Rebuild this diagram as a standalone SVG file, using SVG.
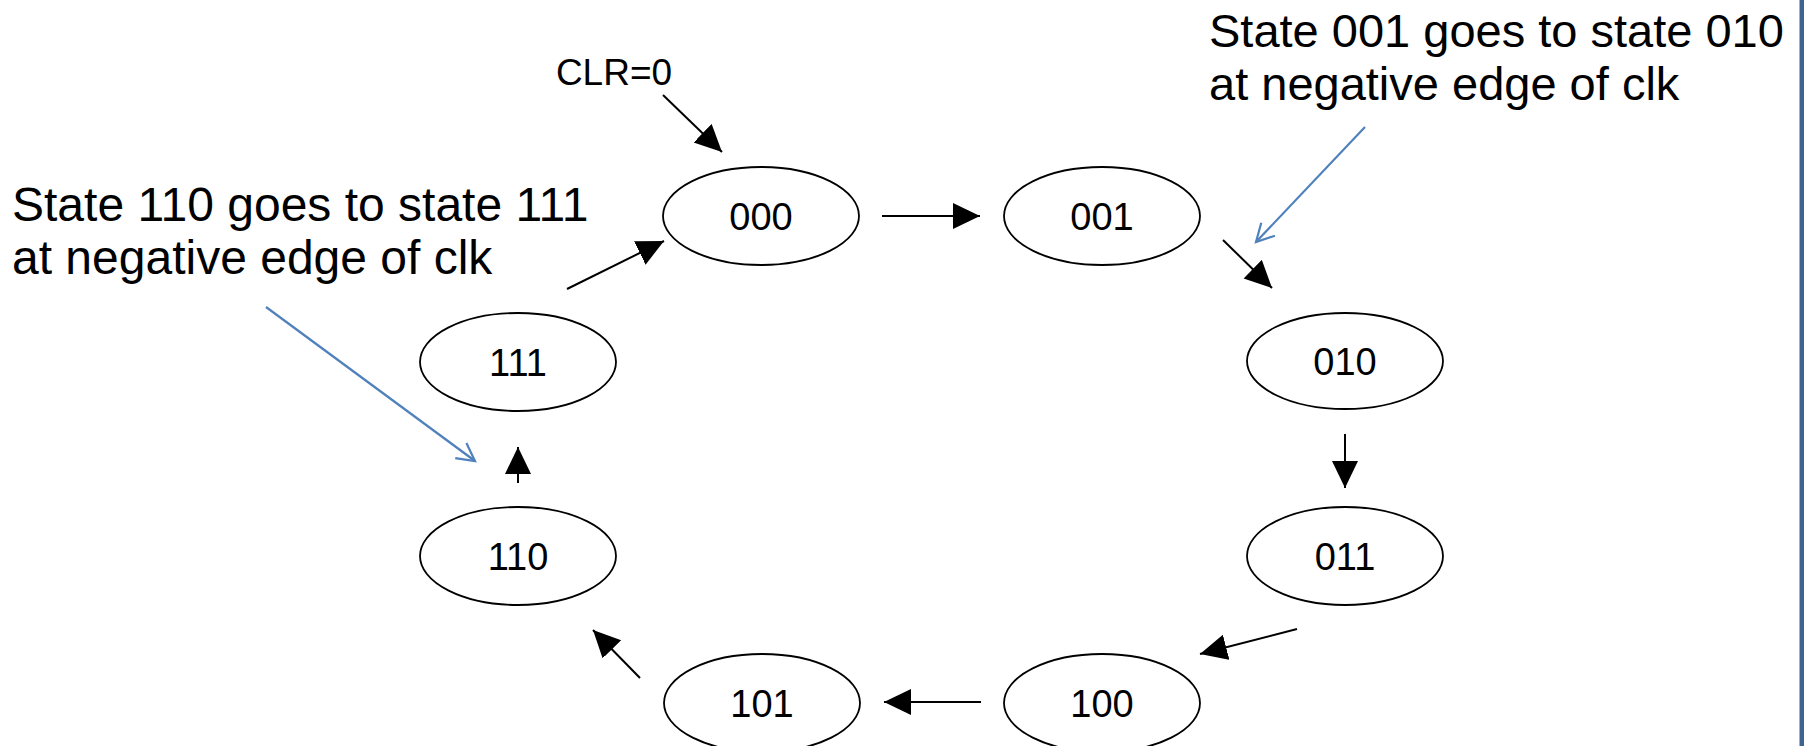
<svg xmlns="http://www.w3.org/2000/svg" width="1806" height="746" viewBox="0 0 1806 746">
  <style>
    .state ellipse { fill: #ffffff; stroke: #000000; stroke-width: 1.8; }
    .state text { font-family: "Liberation Sans", Arial, sans-serif; font-size: 38px; fill: #000000; text-anchor: middle; }
    .note { font-family: "Liberation Sans", Arial, sans-serif; font-size: 47px; fill: #000000; }
    .note.wide { font-size: 48px; }
    .edge { stroke: #000000; stroke-width: 2; fill: none; marker-end: url(#head); }
    .callout { stroke: #4F81BD; stroke-width: 2.2; fill: none; marker-end: url(#vhead); }
  </style>
  <defs>
    <marker id="head" markerUnits="userSpaceOnUse" markerWidth="30" markerHeight="30" refX="27" refY="13" orient="auto">
      <path d="M0,0 L27,13 L0,26 z" fill="#000000"/>
    </marker>
    <marker id="vhead" markerUnits="userSpaceOnUse" markerWidth="24" markerHeight="24" refX="19" refY="11" orient="auto" overflow="visible">
      <path d="M1.4,1.6 L19,11 L1.4,20.4" fill="none" stroke="#4F81BD" stroke-width="2.2"/>
    </marker>
  </defs>

  <rect width="1806" height="746" fill="#ffffff"/>

  <!-- slide border on the right -->
  <rect x="1799.5" y="0" width="4.5" height="746" fill="#3F6494"/>

  <!-- annotations -->
  <g id="note-110">
    <text class="note wide" x="12" y="221">State 110 goes to state 111</text>
    <text class="note wide" x="12" y="274">at negative edge of clk</text>
  </g>
  <g id="note-001">
    <text class="note" x="1209" y="47">State 001 goes to state 010</text>
    <text class="note" x="1209" y="100">at negative edge of clk</text>
  </g>
  <g id="clr">
    <text x="614" y="85" font-family="Liberation Sans, Arial, sans-serif" font-size="37" text-anchor="middle" fill="#000000">CLR=0</text>
  </g>

  <!-- states -->
  <g id="s000" class="state"><ellipse cx="761" cy="216" rx="98" ry="49"/><text x="761" y="229.5">000</text></g>
  <g id="s001" class="state"><ellipse cx="1102" cy="216" rx="98" ry="49"/><text x="1102" y="229.5">001</text></g>
  <g id="s010" class="state"><ellipse cx="1345" cy="361" rx="98" ry="48"/><text x="1345" y="374.5">010</text></g>
  <g id="s011" class="state"><ellipse cx="1345" cy="556" rx="98" ry="49"/><text x="1345" y="569.5">011</text></g>
  <g id="s100" class="state"><ellipse cx="1102" cy="703" rx="98" ry="49"/><text x="1102" y="716.5">100</text></g>
  <g id="s101" class="state"><ellipse cx="762" cy="703" rx="98" ry="49"/><text x="762" y="716.5">101</text></g>
  <g id="s110" class="state"><ellipse cx="518" cy="556" rx="98" ry="49"/><text x="518" y="569.5">110</text></g>
  <g id="s111" class="state"><ellipse cx="518" cy="362" rx="98" ry="49"/><text x="518" y="375.5">111</text></g>

  <!-- transitions -->
  <g id="connectors">
    <line class="edge" x1="663" y1="95" x2="722" y2="152"/>
    <line class="edge" x1="882" y1="216" x2="980" y2="216"/>
    <line class="edge" x1="1223" y1="240" x2="1272" y2="288"/>
    <line class="edge" x1="1345" y1="434" x2="1345" y2="488"/>
    <line class="edge" x1="1297" y1="629" x2="1200" y2="654"/>
    <line class="edge" x1="981" y1="702" x2="884" y2="702"/>
    <line class="edge" x1="640" y1="678" x2="593" y2="630"/>
    <line class="edge" x1="518" y1="483" x2="518" y2="447"/>
    <line class="edge" x1="567" y1="289" x2="664" y2="241"/>
    <line class="callout" x1="266" y1="307" x2="475" y2="461"/>
    <line class="callout" x1="1365" y1="127" x2="1256" y2="242"/>
  </g>
</svg>
